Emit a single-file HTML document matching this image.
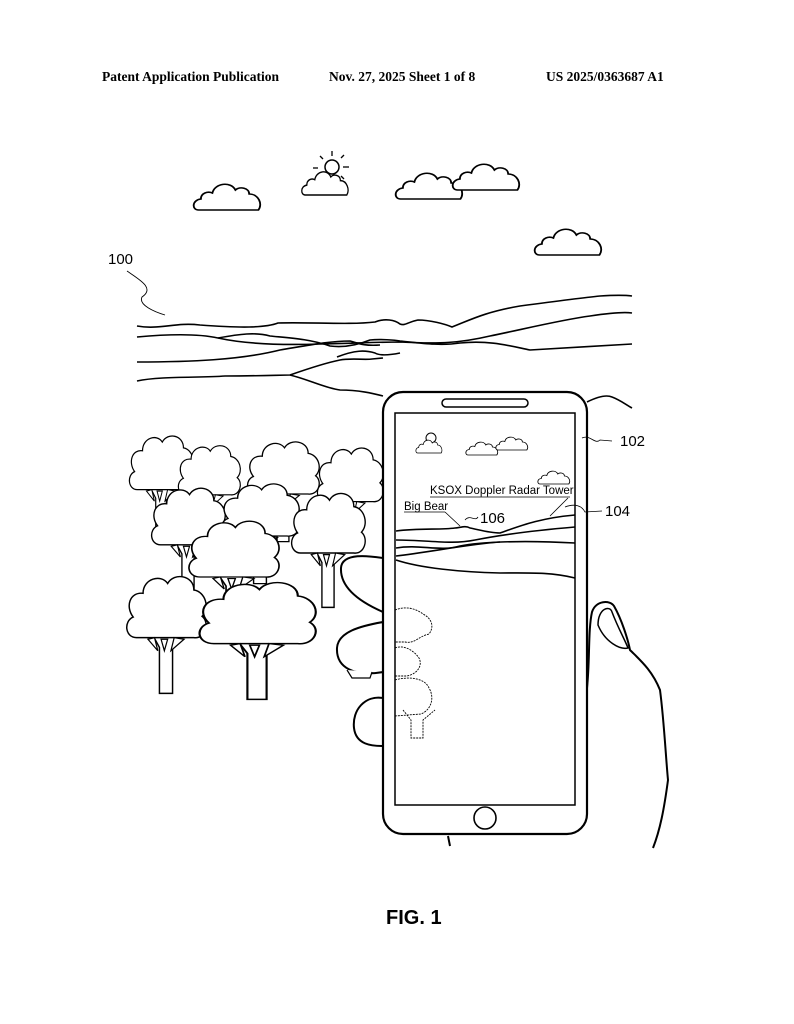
<!DOCTYPE html>
<html><head><meta charset="utf-8"><style>
html,body{margin:0;padding:0;background:#fff}
svg{display:block}
</style></head><body>
<svg width="794" height="1024" viewBox="0 0 794 1024" xmlns="http://www.w3.org/2000/svg">
<defs>
<path id="cl" d="M4,30 C-2,30 -2,20 6,19 C6,13 12,11 16,13 C18,3 32,1 36,10 C40,6 48,8 48,14 C56,14 60,24 56,30 Z" fill="#fff" stroke="#000" stroke-width="1.6"/>
<g id="tr">
<path d="M30,70 L42,92 L42,148 L58,148 L58,92 L70,70" fill="#fff" stroke="#000" stroke-width="1.8"/>
<path d="M14,80 C0,80 -2,60 10,55 C0,42 6,24 22,26 C22,8 44,2 52,14 C60,0 84,4 84,22 C98,24 104,44 94,54 C104,62 98,82 84,80 Z" fill="#fff" stroke="#000" stroke-width="1.8"/>
<path d="M28,82 L40,96 L36,80 Z M44,82 L48,96 L52,82 Z M60,80 L56,96 L72,82 Z" fill="#fff" stroke="#000" stroke-width="1.5"/>
</g>
</defs>

<g font-family="Liberation Serif, serif" font-weight="bold" font-size="13.5">
<text x="102" y="81">Patent Application Publication</text>
<text x="329" y="81">Nov. 27, 2025  Sheet 1 of 8</text>
<text x="546" y="81">US 2025/0363687 A1</text>
</g>

<!-- sky -->
<use href="#cl" transform="translate(194,180) scale(1.15,1)"/>
<circle cx="332" cy="167" r="7" fill="#fff" stroke="#000" stroke-width="1.5"/>
<g stroke="#000" stroke-width="1.3">
<line x1="332" y1="151" x2="332" y2="156"/><line x1="320" y1="156" x2="323" y2="159"/>
<line x1="341" y1="158" x2="344" y2="155"/><line x1="343" y1="167" x2="349" y2="167"/>
<line x1="313" y1="168" x2="318" y2="168"/><line x1="341" y1="176" x2="344" y2="179"/>
</g>
<use href="#cl" transform="translate(302,168) scale(0.8,0.9)"/>
<use href="#cl" transform="translate(396,169) scale(1.15,1)"/>
<use href="#cl" transform="translate(453,160) scale(1.15,1)"/>
<use href="#cl" transform="translate(535,225) scale(1.15,1)"/>

<text x="108" y="264" font-family="Liberation Sans, sans-serif" font-size="15">100</text>
<path d="M127,271 C140,280 155,288 142,297 C138,305 155,312 165,315" fill="none" stroke="#000" stroke-width="0.9"/>

<!-- mountains -->
<g fill="none" stroke="#000" stroke-width="1.6">
<path d="M137,326 C160,330 175,322 200,325 C240,328 265,328 278,323 C310,322 350,325 375,322 C385,318 395,320 400,324 C405,326 408,322 418,320 C430,320 445,324 452,327 C470,320 485,312 520,306 C550,302 580,298 600,296 C615,295 625,295 632,296"/>
<path d="M137,337 C170,334 200,334 218,338 C250,345 290,345 320,344 C360,343 380,342 400,342 C440,344 460,343 490,336 C520,330 560,320 590,316 C610,313 625,312 632,313"/>
<path d="M218,338 C240,334 255,332 270,336 C290,338 310,339 330,346 C345,348 360,344 370,340 C380,339 395,340 400,341 C420,343 440,346 460,343 C490,340 510,346 530,350 C560,348 600,346 632,344"/>
<path d="M137,362 C190,362 240,360 280,350 C310,345 330,341 350,341 C360,344 365,346 380,345"/>
<path d="M337,357 C355,350 365,350 375,353 C380,356 390,355 400,353"/>
<path d="M137,381 C160,376 200,378 225,376 C260,376 280,375 290,375 C310,368 330,362 340,360 C350,358 365,360 372,359 L383,358"/>
<path d="M290,375 C310,380 325,388 340,390 C360,390 375,394 383,396"/>
<path d="M587,402 C595,398 605,394 612,397 C620,400 625,404 632,408"/>
</g>

<!-- left fingers (behind trees partly) -->
<g fill="#fff" stroke="#000" stroke-width="2">
<path d="M383,612 C360,602 340,588 341,568 C342,552 370,556 383,558 Z"/>
</g>

<!-- trees -->
<use href="#tr" transform="translate(128,432) scale(0.66,0.72)"/>
<use href="#tr" transform="translate(246,438) scale(0.74,0.7)"/>
<use href="#tr" transform="translate(316,444) scale(0.68,0.72)"/>
<use href="#tr" transform="translate(177,442) scale(0.64,0.66)"/>
<use href="#tr" transform="translate(150,484) scale(0.76,0.76)"/>
<use href="#tr" transform="translate(220,480) scale(0.8,0.7)"/>
<use href="#tr" transform="translate(290,489) scale(0.76,0.8)"/>
<use href="#tr" transform="translate(187,517) scale(0.93,0.75)"/>
<use href="#tr" transform="translate(125,572) scale(0.82,0.82)"/>
<use href="#tr" transform="translate(197,578) scale(1.2,0.82)"/>

<g fill="#fff" stroke="#000" stroke-width="2">
<path d="M383,672 C355,677 336,668 337,648 C338,632 360,626 383,622 Z"/>
<path d="M383,698 C365,695 352,710 354,728 C356,745 372,746 383,746 Z"/>
</g>
<path d="M347,670 L352,678 L370,678 L372,672" fill="#fff" stroke="#000" stroke-width="1.2"/>

<!-- phone -->
<rect x="383" y="392" width="204" height="442" rx="20" fill="#fff" stroke="#000" stroke-width="2.2"/>
<rect x="395" y="413" width="180" height="392" fill="#fff" stroke="#000" stroke-width="1.5"/>
<rect x="442" y="399" width="86" height="8" rx="4" fill="#fff" stroke="#000" stroke-width="1.5"/>
<circle cx="485" cy="818" r="11" fill="#fff" stroke="#000" stroke-width="1.6"/>

<!-- screen content -->
<circle cx="431" cy="438" r="5" fill="#fff" stroke="#000" stroke-width="1"/>
<use href="#cl" transform="translate(416,438) scale(0.45,0.5)"/>
<use href="#cl" transform="translate(466,440) scale(0.55,0.5)"/>
<use href="#cl" transform="translate(496,435) scale(0.55,0.5)"/>
<use href="#cl" transform="translate(538,469) scale(0.55,0.5)"/>
<g font-family="Liberation Sans, sans-serif" font-size="11.5">
<text x="430" y="494">KSOX Doppler Radar Tower</text>
<text x="404" y="510">Big Bear</text>
</g>
<line x1="430" y1="497" x2="570" y2="497" stroke="#000" stroke-width="0.8"/>
<line x1="404" y1="512" x2="445" y2="512" stroke="#000" stroke-width="0.8"/>
<path d="M445,512 L460,526 M568,498 L550,516" stroke="#000" stroke-width="0.8" fill="none"/>
<text x="480" y="523" font-family="Liberation Sans, sans-serif" font-size="15">106</text>
<path d="M465,520 C470,514 475,522 478,517" fill="none" stroke="#000" stroke-width="0.8"/>
<g fill="none" stroke="#000" stroke-width="1.6">
<path d="M396,531 C420,528 440,530 455,528 C460,528 465,525 470,528 C480,530 490,533 500,533 C520,526 540,518 575,515"/>
<path d="M396,540 C430,540 450,545 475,540 C500,535 540,530 575,527"/>
<path d="M396,548 C420,544 440,552 460,546 C480,542 520,540 575,543"/>
<path d="M396,556 C430,552 470,544 500,542"/>
<path d="M396,560 C420,568 460,572 500,573 C530,573 550,572 575,578"/>
</g>
<g transform="translate(395,610)" fill="none" stroke="#000" stroke-width="0.9" stroke-dasharray="2,1">
<path d="M0,0 C10,-4 20,-2 28,4 C36,8 40,16 34,24 C24,26 20,34 10,32 L0,32"/>
<path d="M0,38 C10,34 20,42 24,48 C28,56 22,64 12,66 L0,66"/>
<path d="M0,70 C14,66 30,68 34,78 C40,88 36,100 26,104 L0,106"/>
<path d="M8,100 L16,110 L16,128 L28,128 L28,110 L40,100"/>
</g>

<!-- right hand -->
<g fill="none" stroke="#000" stroke-width="2">
<path d="M587,688 C590,660 588,630 592,612 C596,600 610,600 614,606 C622,620 628,640 630,650 C640,660 652,670 660,690 C664,720 666,760 668,780 C664,810 660,830 653,848"/>
<path d="M598,625 C598,608 610,605 612,612 C618,628 625,640 628,648 C620,650 605,642 598,625 Z" stroke-width="1.5"/>
<path d="M448,836 L450,846"/>
</g>

<!-- leaders 102 104 -->
<path d="M582,438 C590,434 595,445 600,440 L612,441" fill="none" stroke="#000" stroke-width="0.8"/>
<text x="620" y="446" font-family="Liberation Sans, sans-serif" font-size="15">102</text>
<path d="M565,507 C575,503 582,506 585,512 L602,511" fill="none" stroke="#000" stroke-width="0.8"/>
<text x="605" y="516" font-family="Liberation Sans, sans-serif" font-size="15">104</text>

<text x="386" y="924" font-family="Liberation Sans, sans-serif" font-weight="bold" font-size="20">FIG. 1</text>
</svg>
</body></html>
